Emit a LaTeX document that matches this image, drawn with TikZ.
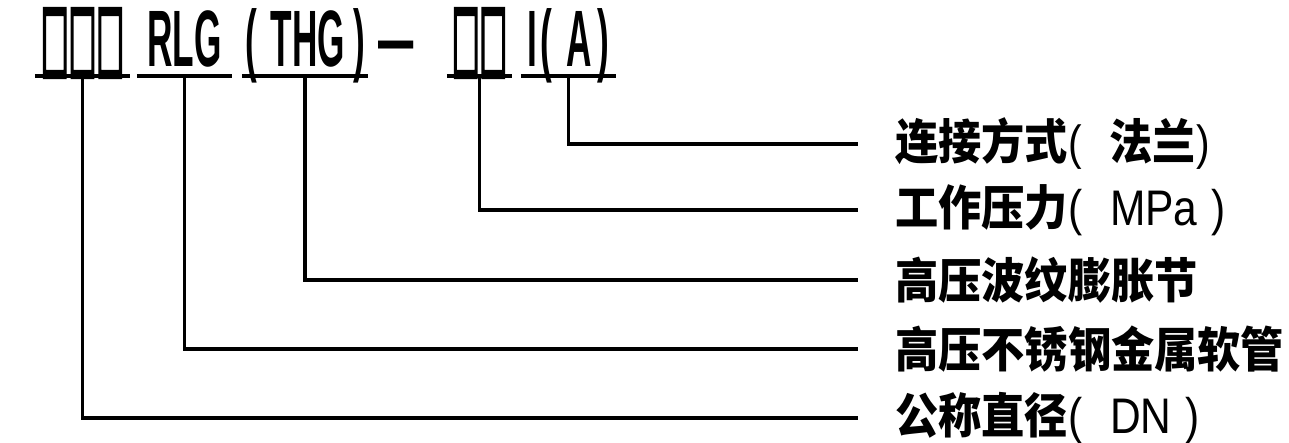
\documentclass[tikz,border=0pt]{standalone}
\usepackage{fontspec}
\usepackage{graphicx}
\usepackage{tikz}
\usetikzlibrary{positioning}
\newfontfamily\codefont{Liberation Sans}
\newfontfamily\latfont[FakeStretch=0.85]{Liberation Sans}
\newfontfamily\boxfont[FakeBold=5]{DejaVu Sans}
\newfontfamily\cnfont[FakeStretch=0.9]{Noto Sans CJK SC}
\newcommand{\narrowtxt}[1]{\scalebox{0.55}[1.25]{#1}}

\begin{document}
\begin{tikzpicture}[
  x=1pt, y=-1pt,
  codeGrp/.style={inner sep=0pt, anchor=base,
                  font=\codefont\bfseries\fontsize{64}{70}\selectfont},
  descLbl/.style={inner sep=0pt, anchor=west,
                  font=\cnfont\bfseries\fontsize{48}{52}\selectfont},
  uline/.style={line width=3.4pt},
  conn/.style={line width=3.2pt, shorten >=37pt}
]
  \useasboundingbox (0,0) rectangle (1289,442);

  % Model code
  \node[codeGrp, minimum width=95pt] (dnCode) at (82.5,66)
    {\resizebox{83pt}{57pt}{\boxfont □□□}};
  \node[codeGrp, minimum width=95pt] (rlgCode) at (184.5,66) {\narrowtxt{RLG}};
  \node[codeGrp, minimum width=126pt] (thgCode) at (305,66)
    {\narrowtxt{(\kern25pt THG\kern15pt)}};
  \node[codeGrp] (dashCode) at (396.5,66) {\narrowtxt{—}};
  \node[codeGrp, minimum width=65pt] (mpaCode) at (479.5,66)
    {\resizebox{55pt}{57pt}{\boxfont □□}};
  \node[codeGrp, minimum width=95pt] (flgCode) at (568.5,66)
    {\narrowtxt{I\kern7pt(\kern25pt A\kern11pt)}};

  % Underlines
  \foreach \n in {dnCode,rlgCode,thgCode,mpaCode,flgCode}
    \draw[uline] ([yshift=-10pt]\n.base west) -- ([yshift=-10pt]\n.base east);

  % Descriptions
  \node[descLbl] (flgLbl) at (895,144)
    {连接方式{\latfont\mdseries(}\kern28pt 法兰{\latfont\mdseries)}};
  \node[descLbl] (mpaLbl) at (895,210)
    {工作压力{\latfont\mdseries\fontsize{50}{52}\selectfont(\kern28pt MPa\kern14pt)}};
  \node[descLbl] (thgLbl) at (895,280) {高压波纹膨胀节};
  \node[descLbl] (rlgLbl) at (895,349) {高压不锈钢金属软管};
  \node[descLbl] (dnLbl) at (895,418)
    {公称直径{\latfont\mdseries\fontsize{50}{52}\selectfont(\kern28pt DN\kern14pt)}};

  % Leaders
  \draw[conn] ([yshift=-10pt]flgCode.base) |- (flgLbl.west);
  \draw[conn] ([yshift=-10pt]mpaCode.base) |- (mpaLbl.west);
  \draw[conn] ([yshift=-10pt]thgCode.base) |- (thgLbl.west);
  \draw[conn] ([yshift=-10pt]rlgCode.base) |- (rlgLbl.west);
  \draw[conn] ([yshift=-10pt]dnCode.base) |- (dnLbl.west);
\end{tikzpicture}
\end{document}
